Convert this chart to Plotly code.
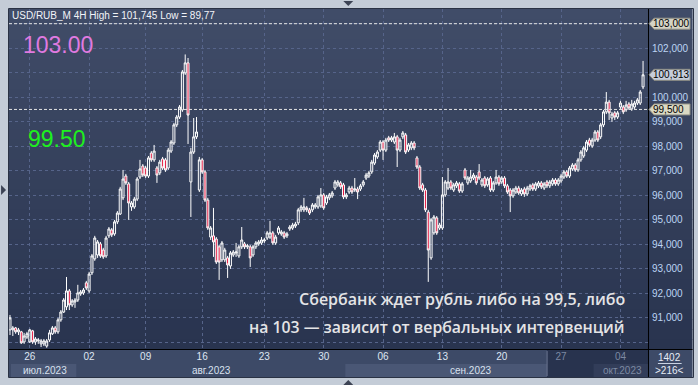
import plotly.graph_objects as go

# ---------------- data (USD/RUB_M, 4H candles) ----------------
opens = [
    90.50, 90.50, 90.58, 90.42, 90.42, 90.01, 90.21, 90.01, 90.46, 90.01, 90.05, 89.93,
    89.93, 89.84, 90.09, 90.34, 90.58, 90.42, 90.91, 91.23, 91.44, 92.09,
    91.52, 91.64, 91.72, 91.97, 92.01, 92.42, 92.09, 92.83, 93.40, 93.56,
    94.01, 93.76, 93.52, 94.34, 94.58, 94.42, 94.91, 95.23, 95.89, 96.78,
    96.46, 95.52, 95.52, 95.84, 96.74, 97.19, 97.11, 96.78, 97.72, 97.44,
    97.11, 96.91, 97.48, 97.44, 97.11, 97.80, 98.13, 98.87, 99.19, 99.48,
    100.99, 101.40, 96.54, 97.76, 98.38, 96.21, 97.44, 96.95, 95.80, 94.29,
    94.34, 94.21, 93.89, 93.36, 93.36, 93.44, 93.11, 93.56, 93.64, 93.52,
    93.89, 94.01, 93.89, 93.89, 93.56, 93.89, 94.01, 94.05, 94.13, 94.25,
    94.29, 94.46, 94.05, 94.46, 94.42, 94.46, 94.34, 94.62, 94.66, 94.74,
    94.87, 95.40, 95.40, 95.48, 95.40,
    95.40, 95.52, 95.52, 95.56, 96.01, 95.68, 95.89, 95.97,
    96.29, 96.42, 96.50, 96.42, 95.93, 96.13, 96.29,
    96.21, 96.25, 96.25, 96.42,
    96.70, 96.78, 96.95, 97.31, 97.56,
    97.84, 98.17, 97.84, 98.34, 98.25, 98.17, 98.38, 97.84, 98.38, 98.46,
    97.84, 97.93, 98.13, 97.52, 97.15, 96.42, 96.21, 95.31, 93.44, 94.46,
    95.07, 94.66, 94.66, 96.01, 96.29, 96.54, 96.21, 96.38, 96.46, 96.17,
    97.03, 96.50, 96.58, 96.70, 96.74, 96.95, 96.42, 96.70, 96.42, 96.70,
    96.21, 96.50, 96.74, 96.54, 96.70, 96.38, 96.21, 95.97, 96.13, 96.29,
    96.05, 96.25, 96.05, 96.25, 96.42, 96.25, 96.38, 96.50, 96.29, 96.54,
    96.38, 96.46, 96.62, 96.46, 96.58, 96.74, 96.95, 96.78, 97.07, 97.23,
    97.03, 97.44, 97.60, 97.84, 98.25, 98.01,
    98.25, 98.58, 98.38, 98.87, 99.40, 99.80, 99.15, 99.36, 99.19, 99.60,
    99.60, 99.48, 99.72, 99.52, 99.60, 99.76, 99.76, 100.42,
]
highs = [
    91.11, 90.66, 90.62, 90.58, 90.46, 90.38, 90.42, 90.54, 90.50, 90.21, 90.17, 90.13,
    90.13, 90.13, 90.50, 90.66, 90.66, 90.99, 91.31, 91.80, 92.66, 92.17,
    91.76, 91.80, 92.34, 92.13, 92.21, 92.50, 92.87, 93.60, 94.34, 94.17,
    94.09, 93.85, 94.34, 94.70, 94.66, 94.99, 95.35, 96.34, 97.03, 96.87,
    96.54, 95.76, 95.93, 96.74, 97.44, 97.27, 97.19, 97.60, 97.80, 98.05,
    97.19, 97.44, 97.56, 97.52, 97.93, 98.25, 98.95, 99.27, 99.68, 101.11,
    101.745, 101.60, 97.93, 99.15, 99.19, 97.56, 97.52, 97.03, 95.89, 94.74,
    95.48, 94.29, 93.97, 94.13, 93.85, 93.52, 93.72, 93.76, 94.05, 93.97,
    94.70, 94.09, 94.01, 93.97, 93.97, 94.13, 94.17, 94.29, 94.25, 94.54,
    94.95, 94.54, 94.38, 94.74, 94.58, 94.54, 94.50, 94.78, 94.87, 94.91,
    95.48, 95.60, 95.89, 95.56, 95.48,
    95.68, 95.68, 96.01, 96.29, 96.09, 96.01, 96.09, 96.17,
    96.62, 96.62, 96.58, 96.50, 96.09, 96.38, 96.38,
    96.70, 96.34, 96.46, 96.62,
    96.91, 96.99, 97.44, 97.72, 97.84,
    98.25, 98.25, 98.34, 98.42, 98.42, 98.54, 98.46, 98.34, 98.62, 98.54,
    98.13, 98.21, 98.21, 97.60, 97.23, 96.50, 96.29, 95.40, 95.07, 95.19,
    95.15, 94.87, 96.74, 96.62, 97.11, 96.62, 96.50, 96.58, 96.54, 96.54,
    97.11, 96.78, 97.03, 96.91, 96.82, 97.27, 96.70, 96.78, 96.74, 96.78,
    96.58, 97.03, 96.82, 96.78, 96.78, 96.46, 96.29, 96.29, 96.38, 96.38,
    96.29, 96.34, 96.38, 96.46, 96.50, 96.54, 96.58, 96.58, 96.54, 96.62,
    96.62, 96.70, 96.70, 96.70, 96.87, 97.03, 97.03, 97.19, 97.31, 97.31,
    97.52, 97.84, 98.01, 98.25, 98.34, 98.34,
    98.66, 98.66, 98.95, 99.48, 100.21, 99.89, 99.40, 99.44, 99.44, 99.85,
    99.68, 99.85, 99.80, 99.89, 99.85, 99.97, 100.29, 101.48,
]
lows = [
    90.29, 90.25, 90.34, 90.29, 89.93, 89.93, 90.13, 89.97, 89.93, 89.89, 89.93, 89.80,
    89.84, 89.77, 90.01, 90.29, 90.34, 90.34, 90.83, 91.19, 91.31, 91.31,
    91.44, 91.40, 91.64, 91.89, 91.93, 92.13, 92.01, 92.74, 93.32, 93.44,
    93.44, 93.40, 93.44, 94.25, 94.29, 94.34, 94.82, 95.19, 95.80, 96.42,
    94.99, 95.36, 95.44, 95.76, 96.66, 96.74, 96.70, 96.70, 97.36, 97.36,
    96.50, 96.82, 97.03, 96.95, 97.03, 97.72, 98.05, 98.78, 99.11, 99.40,
    100.91, 98.09, 95.11, 97.68, 98.29, 96.13, 96.87, 95.72, 94.58, 94.17,
    93.48, 93.19, 92.54, 93.27, 93.27, 92.62, 92.99, 93.48, 93.48, 93.44,
    93.80, 93.80, 93.80, 93.07, 93.48, 93.80, 93.93, 93.97, 94.05, 94.17,
    94.21, 93.97, 93.97, 94.38, 94.34, 94.21, 94.25, 94.54, 94.58, 94.66,
    94.78, 95.31, 95.31, 95.31, 95.19,
    95.31, 95.44, 95.44, 95.48, 95.40, 95.60, 95.80, 95.89,
    96.21, 96.34, 96.25, 95.84, 95.84, 96.05, 96.05,
    96.13, 95.84, 96.17, 96.34,
    96.62, 96.70, 96.87, 97.23, 97.48,
    97.76, 97.44, 97.76, 98.17, 98.17, 98.09, 97.15, 97.76, 98.29, 97.68,
    97.76, 97.84, 97.84, 97.07, 96.21, 96.13, 95.31, 92.46, 93.36, 94.38,
    94.38, 94.58, 94.58, 95.93, 96.21, 96.21, 96.13, 96.29, 96.09, 96.09,
    96.62, 96.42, 96.50, 96.62, 96.42, 96.62, 96.34, 96.29, 96.34, 96.13,
    96.13, 96.42, 96.38, 96.46, 96.29, 96.05, 95.31, 95.89, 96.05, 96.01,
    95.97, 95.93, 95.97, 96.17, 96.17, 96.17, 96.29, 96.25, 96.21, 96.29,
    96.29, 96.38, 96.38, 96.38, 96.50, 96.66, 96.70, 96.70, 96.99, 96.95,
    96.95, 97.36, 97.52, 97.76, 97.97, 97.93,
    98.17, 98.17, 98.29, 98.78, 99.31, 99.07, 98.99, 99.07, 99.11, 99.52,
    99.31, 99.40, 99.48, 99.44, 99.52, 99.68, 99.68, 100.33,
]
closes = [
    90.99, 90.58, 90.42, 90.50, 89.97, 90.25, 90.34, 90.50, 90.01, 90.13, 90.09, 90.05,
    90.05, 90.05, 90.38, 90.58, 90.42, 90.91, 91.23, 91.72, 92.09, 91.52,
    91.68, 91.72, 92.01, 92.05, 92.13, 92.21, 92.78, 93.52, 94.25, 94.09,
    93.52, 93.48, 94.25, 94.62, 94.38, 94.91, 95.27, 96.25, 96.66, 96.50,
    95.68, 95.68, 95.84, 96.66, 97.07, 96.82, 96.78, 97.52, 97.44, 97.80,
    96.82, 97.35, 97.11, 97.03, 97.84, 98.17, 98.87, 99.19, 99.60, 101.03,
    101.40, 99.27, 97.76, 98.38, 98.58, 97.44, 96.95, 95.80, 94.66, 94.66,
    94.09, 93.27, 93.27, 94.05, 93.76, 93.15, 93.64, 93.68, 93.68, 93.89,
    94.17, 93.89, 93.93, 93.44, 93.89, 94.05, 94.09, 94.17, 94.17, 94.46,
    94.46, 94.05, 94.29, 94.66, 94.50, 94.29, 94.42, 94.70, 94.78, 94.82,
    95.40, 95.52, 95.52, 95.40, 95.27,
    95.60, 95.60, 95.93, 96.01, 95.48, 95.93, 96.01, 96.09,
    96.54, 96.54, 96.34, 95.93, 96.01, 96.29, 96.13,
    96.25, 96.13, 96.38, 96.54,
    96.82, 96.91, 97.35, 97.64, 97.76,
    98.17, 97.84, 98.25, 98.25, 98.34, 98.38, 97.84, 98.25, 98.54, 97.76,
    98.05, 98.13, 97.93, 97.15, 96.29, 96.21, 95.40, 93.76, 94.99, 95.11,
    94.46, 94.78, 96.01, 96.54, 96.54, 96.29, 96.42, 96.50, 96.17, 96.46,
    96.70, 96.70, 96.74, 96.82, 96.50, 96.70, 96.62, 96.38, 96.66, 96.21,
    96.50, 96.74, 96.46, 96.70, 96.38, 96.13, 95.97, 96.21, 96.29, 96.09,
    96.21, 96.05, 96.29, 96.38, 96.25, 96.46, 96.50, 96.34, 96.46, 96.38,
    96.54, 96.62, 96.46, 96.62, 96.78, 96.95, 96.78, 97.11, 97.23, 97.03,
    97.44, 97.76, 97.93, 98.17, 98.05, 98.25,
    98.58, 98.25, 98.87, 99.40, 99.80, 99.36, 99.31, 99.19, 99.36, 99.76,
    99.40, 99.68, 99.56, 99.72, 99.76, 99.89, 100.21, 100.913,
]
bar_index = list(range(len(closes)))

day_labels = ["26", "02", "09", "16", "23", "30", "06", "13", "20", "27", "04"]
day_bar = [7, 28, 48, 68, 90, 111, 132, 153, 174, 195, 216]
dim_days = {"27", "04"}
month_labels = ["июл.2023", "авг.2023", "сен.2023", "окт.2023"]

price_ticks = [90, 91, 92, 93, 94, 95, 96, 97, 98, 99, 100, 101, 102, 103]
hidden_ticks = {90, 101, 103}
level_high = 103.0
level_low = 99.5
last_price = 100.913
header = "USD/RUB_M 4H High = 101,745 Low = 89,77"
caption1 = "Сбербанк ждет рубль либо на 99,5, либо"
caption2 = "на 103 — зависит от вербальных интервенций"
bars_total = "1402"
bars_shift = "&gt;216&lt;"

# ---------------- geometry helpers (styling) ----------------
W, H = 698, 385
ML, MR, MT, MB = 9, 43, 9, 36
PW, PH = W - ML - MR, H - MT - MB


def px(x):
    return (x - ML) / PW


def py(y):
    return (H - MB - y) / PH


FONT = "Liberation Sans"

fig = go.Figure()
fig.add_trace(go.Candlestick(
    x=bar_index, open=opens, high=highs, low=lows, close=closes,
    increasing=dict(line=dict(color="#ffffff", width=1), fillcolor="rgba(0,0,0,0)"),
    decreasing=dict(line=dict(color="#ffffff", width=1), fillcolor="#e3123c"),
    whiskerwidth=0, showlegend=False, hoverinfo="skip",
))

shapes = []
# gradient background (plot + right price scale)
nb = 34
top_c = (64, 76, 104)
bot_c = (41, 52, 79)
for k in range(nb):
    t = k / (nb - 1)
    c = tuple(round(top_c[j] + (bot_c[j] - top_c[j]) * t) for j in range(3))
    y0 = MT + k * PH / nb
    y1 = MT + (k + 1) * PH / nb + 0.6
    shapes.append(dict(type="rect", xref="paper", yref="paper", layer="below",
                       x0=px(ML), x1=px(W + 2), y0=py(y1), y1=py(y0),
                       fillcolor="rgb(%d,%d,%d)" % c, line=dict(width=0)))
# bottom time strip
shapes.append(dict(type="rect", xref="paper", yref="paper", layer="below",
                   x0=px(ML), x1=px(W + 2), y0=py(377), y1=py(349),
                   fillcolor="#3d4a67", line=dict(width=0)))
for a, b in [(11, 77), (349, 553)]:
    shapes.append(dict(type="rect", xref="paper", yref="paper", layer="below",
                       x0=px(a), x1=px(b), y0=py(377), y1=py(364),
                       fillcolor="#4a5775", line=dict(width=0)))
shapes.append(dict(type="rect", xref="paper", yref="paper", layer="below",
                   x0=px(553), x1=px(655), y0=py(377), y1=py(350),
                   fillcolor="#28334e", line=dict(width=0)))
shapes.append(dict(type="rect", xref="paper", yref="paper", layer="below",
                   x0=px(600), x1=px(655), y0=py(377), y1=py(364),
                   fillcolor="#323d59", line=dict(width=0)))
shapes.append(dict(type="line", xref="paper", yref="paper", layer="below",
                   x0=px(553), x1=px(553), y0=py(376), y1=py(351),
                   line=dict(color="#6a7590", width=1)))
# frame lines
shapes.append(dict(type="line", xref="paper", yref="paper", layer="above",
                   x0=px(ML), x1=px(W + 2), y0=py(349.5), y1=py(349.5),
                   line=dict(color="#000000", width=1)))
shapes.append(dict(type="line", xref="paper", yref="paper", layer="above",
                   x0=px(655.5), x1=px(655.5), y0=py(MT), y1=py(377),
                   line=dict(color="#000000", width=1)))
shapes.append(dict(type="rect", xref="paper", yref="paper", layer="above",
                   x0=px(8.5), x1=px(W + 3), y0=py(377.5), y1=py(8.5),
                   line=dict(color="#2a3244", width=1)))
# separator in bar-count box
shapes.append(dict(type="line", xref="paper", yref="paper", layer="above",
                   x0=px(665), x1=px(689), y0=py(363.5), y1=py(363.5),
                   line=dict(color="#c8d2e2", width=1)))
# level lines
for lv in (level_high, level_low):
    shapes.append(dict(type="line", xref="paper", yref="y", layer="above",
                       x0=0, x1=1, y0=lv, y1=lv,
                       line=dict(color="#e6e6e6", width=1, dash="3px,2px")))


# price tags on right scale
def tag(val, fill):
    return dict(type="path", xref="paper", yref="y", xsizemode="pixel", ysizemode="pixel",
                xanchor=1, yanchor=val, layer="above",
                path="M 1,0 L 6,5.5 L 42,5.5 L 42,-5.5 L 6,-5.5 Z",
                fillcolor=fill, line=dict(color="#8e8e84", width=1))


shapes.append(tag(level_high, "#d5d4c5"))
shapes.append(tag(last_price, "#c6cddb"))
shapes.append(tag(level_low, "#dad9c3"))


# scroll markers on the outer border
def tri(pts):
    p = "M " + " L ".join("%f,%f" % (px(a), py(b)) for a, b in pts) + " Z"
    return dict(type="path", xref="paper", yref="paper", path=p, layer="above",
                fillcolor="#3c4354", line=dict(width=0))


shapes.append(tri([(347, 1), (357, 1), (352, 6)]))
shapes.append(tri([(347, 385), (357, 385), (352, 380)]))
shapes.append(tri([(1, 185), (1, 195), (6, 190)]))

annotations = []


def fmt(v):
    return ("%.3f" % v).replace(".", ",")


for v in (level_high, last_price, level_low):
    annotations.append(dict(xref="paper", yref="y", x=1, y=v, xanchor="left", yanchor="middle",
                            xshift=3, text=fmt(v), showarrow=False,
                            font=dict(family=FONT, size=10, color="#000000")))

annotations.append(dict(xref="paper", yref="paper", x=px(10), y=py(15), xanchor="left",
                        yanchor="middle", text=header, showarrow=False,
                        font=dict(family=FONT, size=10, color="#f2f4f8")))
annotations.append(dict(xref="paper", yref="paper", x=px(21), y=py(45), xanchor="left",
                        yanchor="middle", text="%.2f" % level_high, showarrow=False,
                        font=dict(family=FONT, size=23, color="#e07ae0")))
annotations.append(dict(xref="paper", yref="paper", x=px(26), y=py(139), xanchor="left",
                        yanchor="middle", text="%.2f" % level_low, showarrow=False,
                        font=dict(family=FONT, size=23, color="#1ef01e")))
annotations.append(dict(xref="paper", yref="paper", x=px(634), y=py(299), xanchor="right",
                        yanchor="middle", text=caption1, showarrow=False,
                        font=dict(family="Open Sans", size=16, color="#e4e4e6", weight=600)))
annotations.append(dict(xref="paper", yref="paper", x=px(634), y=py(327), xanchor="right",
                        yanchor="middle", text=caption2, showarrow=False,
                        font=dict(family="Open Sans", size=15.8, color="#e4e4e6", weight=600)))
month_x = [45, 214, 476, 629]
for lab, mx in zip(month_labels, month_x):
    col = "#7c89a2" if lab.startswith("окт") else "#d8e0ee"
    annotations.append(dict(xref="paper", yref="paper", x=px(mx), y=py(370), xanchor="center",
                            yanchor="middle", text=lab, showarrow=False,
                            font=dict(family=FONT, size=10, color=col)))
annotations.append(dict(xref="paper", yref="paper", x=px(677), y=py(357), xanchor="center",
                        yanchor="middle", text=bars_total, showarrow=False,
                        font=dict(family=FONT, size=10, color="#e6ecf6")))
annotations.append(dict(xref="paper", yref="paper", x=px(677), y=py(370), xanchor="center",
                        yanchor="middle", text=bars_shift, showarrow=False,
                        font=dict(family=FONT, size=10, color="#e6ecf6")))

tick_text_x = [("<span style='color:#7c89a2'>%s</span>" % d) if d in dim_days else d
               for d in day_labels]
tick_text_y = ["" if v in hidden_ticks else fmt(v) for v in price_ticks]

fig.update_layout(
    width=W, height=H, autosize=False,
    margin=dict(l=ML, r=MR, t=MT, b=MB, pad=0),
    paper_bgcolor="#c4ccd7", plot_bgcolor="rgba(0,0,0,0)",
    shapes=shapes, annotations=annotations, showlegend=False,
    boxgap=0.0,
    xaxis=dict(range=[-0.35, 225.75], rangeslider=dict(visible=False),
               tickmode="array", tickvals=day_bar, ticktext=tick_text_x,
               showgrid=True, gridcolor="#56648a", griddash="3px,3px", gridwidth=1,
               zeroline=False, showline=False, ticks="",
               tickfont=dict(family=FONT, size=10, color="#dfe6f2")),
    yaxis=dict(range=[89.72, 103.60], side="right",
               tickmode="array", tickvals=price_ticks, ticktext=tick_text_y,
               showgrid=True, gridcolor="#56648a", griddash="3px,3px", gridwidth=1,
               zeroline=False, showline=False, ticks="", ticklabelstandoff=3,
               tickfont=dict(family=FONT, size=10, color="#bcd4f4")),
)

fig.write_html("out.html")
